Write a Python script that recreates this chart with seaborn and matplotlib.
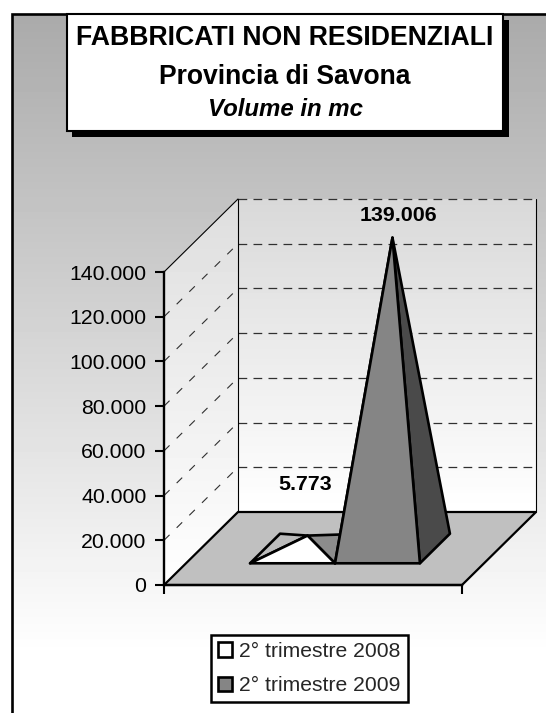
import numpy as np
import matplotlib
matplotlib.use("Agg")
import matplotlib.pyplot as plt
from matplotlib.patches import Polygon, Rectangle, Patch
from matplotlib.ticker import FuncFormatter
import seaborn as sns

title_lines = ["FABBRICATI NON RESIDENZIALI", "Provincia di Savona", "Volume in mc"]
series_names = ["2° trimestre 2008", "2° trimestre 2009"]
series_values = [5773, 139006]
y_ticks = [0, 20000, 40000, 60000, 80000, 100000, 120000, 140000]
value_labels = ["5.773", "139.006"]

sns.set_theme(style="white")
plt.rcParams["font.family"] = ["Liberation Sans", "DejaVu Sans"]

W, H = 546, 713
fig = plt.figure(figsize=(W / 100, H / 100), dpi=100, facecolor="white")


def fx(x):
    return x / W


def fy(y):
    return 1 - y / H


# page background (pixel coordinates)
bg = fig.add_axes([0, 0, 1, 1], zorder=0)
bg.set_xlim(0, W)
bg.set_ylim(H, 0)
bg.axis("off")
grad = np.clip(170 + (255 - 170) * (np.arange(14, H) - 14) / 640, 0, 255)[:, None] / 255
bg.imshow(grad, extent=(12, W, H, 14), cmap="gray", vmin=0, vmax=1, aspect="auto", zorder=1)
bg.set_xlim(0, W)
bg.set_ylim(H, 0)
bg.plot([12, 12, W], [H, 14, 14], color="black", lw=1.9, zorder=2, solid_joinstyle="miter")
bg.add_patch(Rectangle((72, 20), 437, 117, fc="black", ec="none", zorder=3))
bg.add_patch(Rectangle((67, 14), 436, 117, fc="white", ec="black", lw=1.5, zorder=4))

# chart axes: front plane of the 3D box
ax = fig.add_axes([fx(164), fy(585), 298 / W, 313 / H], zorder=1)
ax.patch.set_visible(False)
ymax = 140000
ax.set_xlim(0, 1)
ax.set_ylim(0, ymax)
DX = 74 / 298           # box depth, in x units
DY = 73 / 313 * ymax    # box depth, in value units
ZPX = 1 / 298
ZPY = ymax / 313


def proj(x, depth, v):
    """x in 0..1, depth in 0..1, v = value"""
    return (x + depth * DX, v + depth * DY)


# walls
def wall(poly, top, bottom):
    g = np.linspace(top, bottom, 100)[:, None]
    xs = [p[0] for p in poly]
    ys = [p[1] for p in poly]
    im = ax.imshow(g, extent=(min(xs), max(xs), min(ys), max(ys)), cmap="gray",
                   vmin=0, vmax=1, aspect="auto", zorder=1)
    clip = Polygon(poly, transform=ax.transData, fc="none", ec="none", clip_on=False)
    ax.add_patch(clip)
    im.set_clip_path(clip)
    im.set_clip_box(fig.bbox)


back = [proj(0, 1, 0), proj(1, 1, 0), proj(1, 1, ymax), proj(0, 1, ymax)]
side = [proj(0, 0, 0), proj(0, 1, 0), proj(0, 1, ymax), proj(0, 0, ymax)]
wall(back, 0.85, 1.0)
wall(side, 0.87, 1.0)
ax.set_xlim(0, 1)
ax.set_ylim(0, ymax)

# gridlines on walls
for t in y_ticks[1:]:
    ax.plot(*zip(proj(0, 1, t), proj(1, 1, t)), color="#303030", lw=0.9,
            dashes=(7, 5), clip_on=False, zorder=2)
    if t < ymax:
        ax.plot(*zip(proj(0, 0, t), proj(0, 1, t)), color="#303030", lw=0.8,
                dashes=(7, 9), clip_on=False, zorder=2)
ax.plot(*zip(proj(0, 0, ymax), proj(0, 1, ymax)), color="black", lw=0.8, clip_on=False, zorder=2)
ax.plot(*zip(proj(0, 1, 0), proj(0, 1, ymax)), color="black", lw=0.8, clip_on=False, zorder=2)
ax.plot(*zip(proj(1, 1, 0), proj(1, 1, ymax)), color="black", lw=0.8, clip_on=False, zorder=2)

# floor
floor = [proj(0, 0, 0), proj(1, 0, 0), proj(1, 1, 0), proj(0, 1, 0)]
ax.add_patch(Polygon(floor, closed=True, fc="#c0c0c0", ec="black", lw=1.6, clip_on=False, zorder=3,
                     joinstyle="miter"))

# pyramids
n = len(series_values)
x_left = 0.215
bar_w = (0.785 - 0.215) / n
d0, d1 = 22 / 74, 52 / 74
fills = [("white", "#bcbcbc", "#8c8c8c"), ("#858585", "#858585", "#4a4a4a")]
for i, v in enumerate(series_values):
    xa, xb = x_left + i * bar_w, x_left + (i + 1) * bar_w
    apex = proj((xa + xb) / 2, (d0 + d1) / 2, v)
    fl, bl, br, fr = proj(xa, d0, 0), proj(xa, d1, 0), proj(xb, d1, 0), proj(xb, d0, 0)
    front, left, right = fills[i]
    z = 4 + i
    for pts, col in (([fl, bl, apex], left), ([fr, br, apex], right), ([fl, fr, apex], front)):
        ax.add_patch(Polygon(pts, closed=True, fc=col, ec="black", lw=1.9, clip_on=False, zorder=z,
                             joinstyle="round"))
    lx, ly = apex
    off = (22 if i else 51) * ZPY
    ax.text(lx + (6 if i else -2) * ZPX, ly + off, value_labels[i], ha="center", va="center",
            fontsize=15.4, fontweight="bold", color="black", zorder=8)

# axes
sns.despine(ax=ax, top=True, right=True)
for s in ("left", "bottom"):
    ax.spines[s].set_color("black")
    ax.spines[s].set_linewidth(1.7)
    ax.spines[s].set_zorder(7)
ax.set_yticks(y_ticks)
ax.yaxis.set_major_formatter(FuncFormatter(lambda v, _: f"{int(v):,}".replace(",", ".")))
ax.set_xticks([0, 1])
ax.set_xticklabels([])
ax.tick_params(axis="both", length=6.5, width=1.5, color="black", direction="out", left=True, bottom=True,
               labelsize=15.3, labelcolor="black", pad=6.2)
ax.grid(False)

# legend
handles = [Patch(fc=fills[0][0], ec="black", lw=1.9, label=series_names[0]),
           Patch(fc=fills[1][0], ec="black", lw=1.9, label=series_names[1])]
leg = fig.legend(handles=handles, loc="center", bbox_to_anchor=(fx(309.5), fy(668.5)), frameon=True,
                 fancybox=False, framealpha=1, facecolor="white", edgecolor="black", fontsize=15.2,
                 handlelength=0.65, handleheight=0.65, handletextpad=0.35, labelspacing=0.72,
                 borderpad=0.35, borderaxespad=0)
leg.get_frame().set_linewidth(1.8)
leg.set_zorder(10)

# title
tax = fig.add_axes([0, 0, 1, 1], zorder=2)
tax.axis("off")
tax.set_xlim(0, W)
tax.set_ylim(H, 0)
tax.text(285, 38, title_lines[0], ha="center", va="center", fontsize=19.2, fontweight="bold", color="black")
tax.text(285, 77, title_lines[1], ha="center", va="center", fontsize=19.1, fontweight="bold", color="black")
tax.text(285, 109, title_lines[2], ha="center", va="center", fontsize=17.3, fontweight="bold", fontstyle="italic", color="black")

fig.savefig("out.png", dpi=100)
